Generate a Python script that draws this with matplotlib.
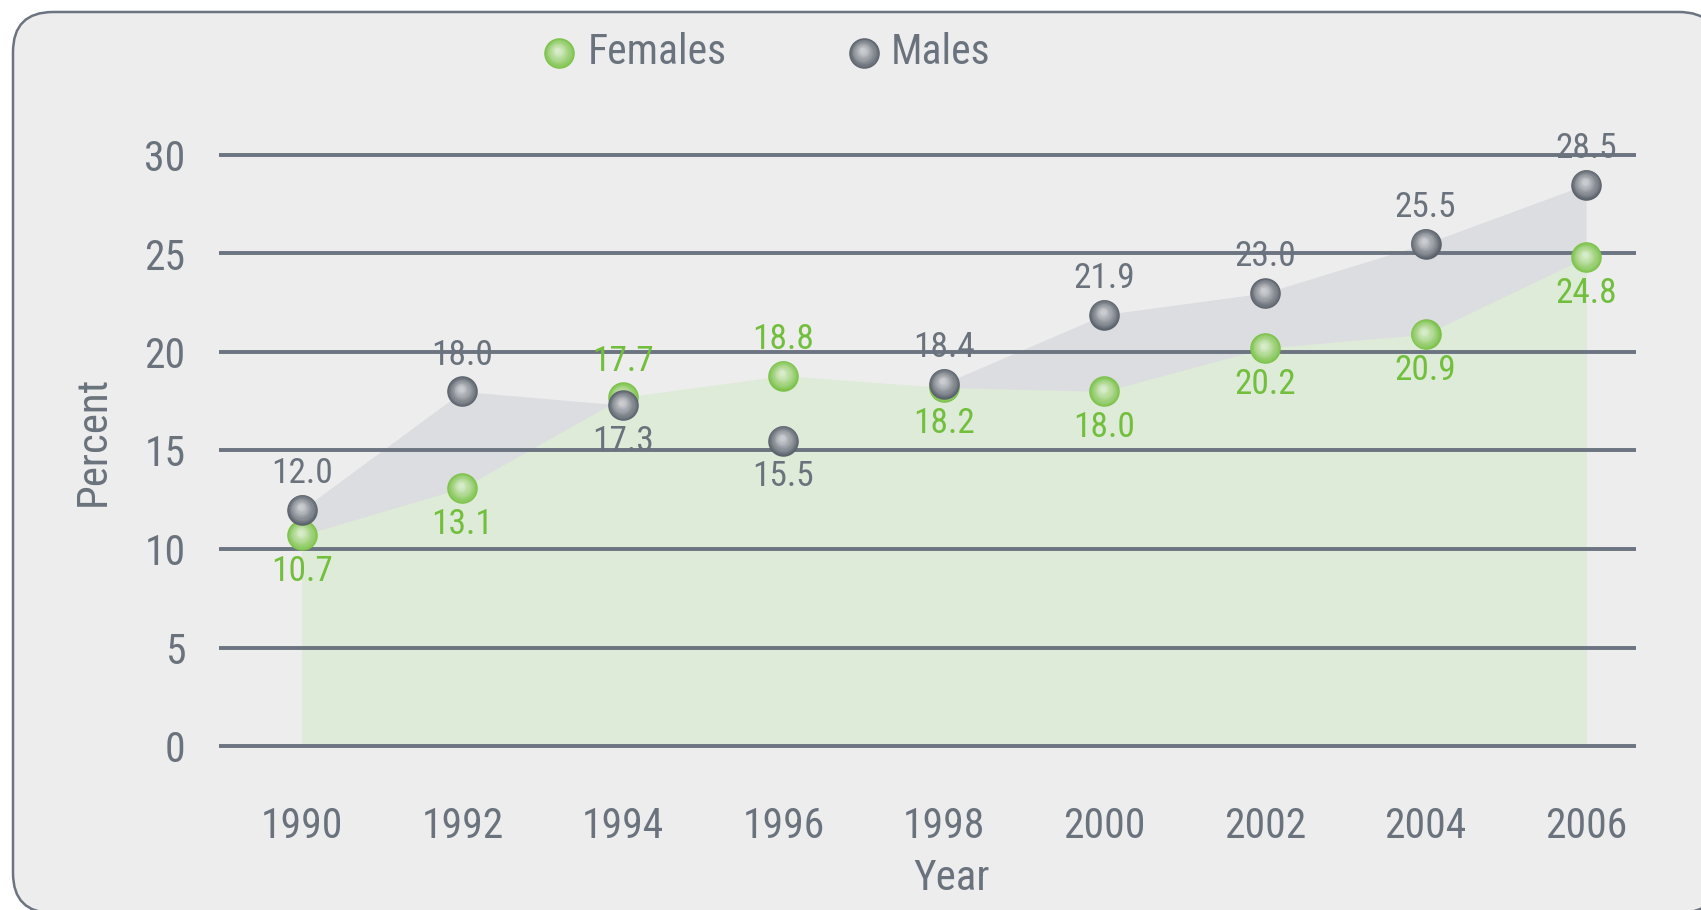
import numpy as np
import matplotlib
matplotlib.use("Agg")
import matplotlib.pyplot as plt
from matplotlib.patches import FancyBboxPatch
from matplotlib.transforms import offset_copy
from matplotlib.colors import to_rgb

years = [1990, 1992, 1994, 1996, 1998, 2000, 2002, 2004, 2006]
females = [10.7, 13.1, 17.7, 18.8, 18.2, 18.0, 20.2, 20.9, 24.8]
males = [12.0, 18.0, 17.3, 15.5, 18.4, 21.9, 23.0, 25.5, 28.5]
female_label_pos = ["below", "below", "above", "above", "below", "below", "below", "below", "below"]
male_label_pos = ["above", "above", "below", "below", "above", "above", "above", "above", "above"]
yticks = [0, 5, 10, 15, 20, 25, 30]

plt.rcParams['font.family'] = ['Roboto Condensed', 'DejaVu Sans']

BG = "#ededed"
TXT = "#6a737d"
GREEN_TXT = "#72bf3e"
GRID = "#6b7480"
GREEN_FILL = "#deebd8"
GRAY_FILL = "#dcdde0"
G_BASE, G_HI = "#7cc24a", "#d6ebc8"
M_BASE, M_HI = "#5c636d", "#c9cbcf"

W, H = 1701, 910
fig = plt.figure(figsize=(W / 100, H / 100), dpi=100)
fig.patch.set_facecolor("white")

# overlay axes in pixel coordinates for panel and legend
ov = fig.add_axes([0, 0, 1, 1], zorder=-5)
ov.set_xlim(0, W)
ov.set_ylim(H, 0)
ov.axis("off")
panel = FancyBboxPatch((13, 12), 1719 - 13, 913 - 12,
                       boxstyle="round,pad=0,rounding_size=40",
                       fc=BG, ec=GRID, lw=1.8)
ov.add_patch(panel)

ax = fig.add_axes([219 / W, 144.3 / H, 1417 / W, 640.25 / H])
ax.set_facecolor("none")
ax.set_xlim(1990 - 1.034, 2006 + 0.623)
ax.set_ylim(-1, 31.5)
for s in ax.spines.values():
    s.set_visible(False)
ax.set_yticks(yticks)
ax.set_xticks(years)
ax.set_xticklabels([str(y) for y in years])
ax.tick_params(axis="both", length=0, labelcolor=TXT, labelsize=30)
ax.tick_params(axis="x", pad=29)
ax.tick_params(axis="y", pad=24)
ax.yaxis.grid(True, color=GRID, lw=2.8, zorder=2)
ax.set_axisbelow(False)
for gl in ax.get_ygridlines():
    gl.set_zorder(2)

ax.fill_between(years, 0, males, color=GRAY_FILL, lw=0, zorder=0.5)
ax.fill_between(years, 0, females, color=GREEN_FILL, lw=0, zorder=0.6)


def mix(c1, c2, t):
    a, b = np.array(to_rgb(c1)), np.array(to_rgb(c2))
    return tuple(a + (b - a) * t)


def sphere(axx, xs, ys, base, hi, size, z):
    n = 14
    fr = np.linspace(1.0, 0.18, n)
    for i, f in enumerate(fr):
        t = (i / (n - 1)) ** 0.9
        dx = -(1 - f) * size * 0.06
        dy = (1 - f) * size * 0.10
        tr = offset_copy(axx.transData, fig=fig, x=dx, y=dy, units="points")
        axx.plot(xs, ys, "o", ms=size * f, color=mix(base, hi, t), mec="none",
                 transform=tr, zorder=z + i * 0.001, clip_on=False)


sphere(ax, years, females, G_BASE, G_HI, 22, 5)
sphere(ax, years, males, M_BASE, M_HI, 22, 6)

for x, v, p in zip(years, females, female_label_pos):
    off = 26 if p == "above" else -26
    ax.annotate(f"{v:.1f}", (x, v), xytext=(0, off), textcoords="offset points",
                ha="center", va="center", color=GREEN_TXT, fontsize=25.5, zorder=4)
for x, v, p in zip(years, males, male_label_pos):
    off = 26 if p == "above" else -26
    ax.annotate(f"{v:.1f}", (x, v), xytext=(0, off), textcoords="offset points",
                ha="center", va="center", color=TXT, fontsize=25.5, zorder=4)

fig.text(93 / W, 1 - 441 / H, "Percent", rotation=90, ha="center", va="center",
         color=TXT, fontsize=31)
fig.text(952 / W, 1 - 879 / H, "Year", ha="center", va="center",
         color=TXT, fontsize=31)

# legend
sphere(ov, [559], [53], G_BASE, G_HI, 22, 5)
sphere(ov, [864], [53], M_BASE, M_HI, 22, 5)
ov.text(588, 53, "Females", ha="left", va="center", color=TXT, fontsize=30)
ov.text(891, 53, "Males", ha="left", va="center", color=TXT, fontsize=30)

fig.savefig("out.png", dpi=100, facecolor="white")
